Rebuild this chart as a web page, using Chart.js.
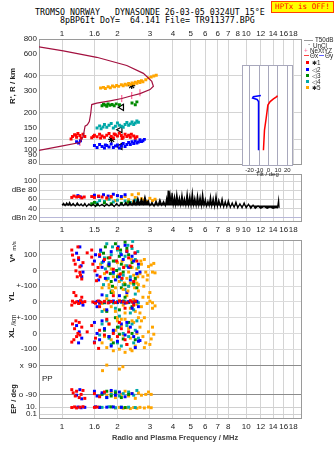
<!DOCTYPE html>
<html><head><meta charset="utf-8">
<script src="https://cdn.jsdelivr.net/npm/chart.js@4.4.1/dist/chart.umd.min.js"></script>
<style>
body{margin:0;background:#fff;}
#wrap{position:relative;width:335px;height:451px;overflow:hidden;background:#fff;font-family:'Liberation Sans',Arial,sans-serif;}
canvas{position:absolute;}
.t{position:absolute;white-space:pre;color:#222;line-height:1;}
.mono{font-family:'DejaVu Sans Mono',monospace;font-size:8.3px;color:#000;}
.r{position:absolute;white-space:nowrap;transform:translate(-50%,-50%) rotate(-90deg);color:#222;line-height:1;}
.lg{font-size:6.3px;}
.sq{position:absolute;width:3px;height:3px;}
</style></head><body><div id="wrap">
<div class="t mono" style="left:35px;top:8px;">TROMSO NORWAY   DYNASONDE 26-03-05 0324UT 15°E</div>
<div class="t mono" style="left:60px;top:16px;">8pBP6It DoY=  64.141 File= TR911377.BPG</div>
<div style="position:absolute;left:271px;top:1px;width:61px;height:10px;background:#ffff00;border:1px solid #ff4000;color:#ff0000;font:7.6px 'DejaVu Sans Mono',monospace;line-height:10px;text-align:center;">HPTx is OFF!</div>

<canvas id="c1" width="335" height="170" style="left:0;top:0"></canvas>
<canvas id="c2" width="335" height="66" style="left:0;top:170px"></canvas>
<canvas id="c3" width="335" height="215" style="left:0;top:236px"></canvas>
<canvas id="c4" width="74" height="122" style="left:228px;top:60px"></canvas>

<div class="r" style="left:13px;top:86px;font-weight:bold;font-size:8px;">R', R / km</div>
<div class="t" style="left:256px;top:171px;font-size:6px;">Tilt / deg</div>
<div class="r" style="left:13px;top:258px;font-weight:bold;font-size:8px;">V*</div>
<div class="r" style="left:14px;top:246px;font-size:6px;">m/s</div>
<div class="r" style="left:12px;top:297px;font-weight:bold;font-size:8px;">YL</div>
<div class="r" style="left:13px;top:320px;font-size:7px;">/km</div>
<div class="r" style="left:12px;top:333px;font-weight:bold;font-size:8px;">XL</div>
<div class="t" style="left:42px;top:375px;font-size:8px;">PP</div>
<div class="r" style="left:14px;top:399px;font-weight:bold;font-size:7.5px;">EP / deg</div>
<div class="t" style="left:112px;top:434px;font-size:7.5px;font-weight:bold;color:#444;">Radio and Plasma Frequency / MHz</div>

<div style="position:absolute;left:304px;top:40px;width:9px;height:1px;background:#999"></div>
<div class="t lg" style="left:315px;top:37px;">T50dB</div>
<div class="t lg" style="left:308px;top:42px;">·</div>
<div class="t lg" style="left:313px;top:43px;">UnCl</div>
<div class="t lg" style="left:304px;top:47.5px;color:#ff6699">+</div>
<div class="t lg" style="left:310px;top:48px;">NeXtYZ</div>
<div style="position:absolute;left:304px;top:55px;width:5px;height:1px;background:#ff4040"></div>
<div class="t lg" style="left:310px;top:52.5px;">Θx</div>
<div style="position:absolute;left:319px;top:55px;width:5px;height:1px;background:#6060ff"></div>
<div class="t lg" style="left:325px;top:52.5px;">Θy</div>
<div class="sq" style="left:306px;top:61px;background:#ff0000"></div><div class="t lg" style="left:312px;top:59.5px;">✱1</div>
<div class="sq" style="left:306px;top:68px;background:#0000ff"></div><div class="t lg" style="left:312px;top:66.5px;">◁2</div>
<div class="sq" style="left:306px;top:74px;background:#008a00"></div><div class="t lg" style="left:312px;top:72.5px;">◁3</div>
<div class="sq" style="left:306px;top:80px;background:#00a8a8"></div><div class="t lg" style="left:312px;top:78.5px;">◁4</div>
<div class="sq" style="left:306px;top:86px;background:#ffa500"></div><div class="t lg" style="left:312px;top:84.5px;">✱5</div>
</div>
<script>
// ---------------- DATA ----------------
const freqTicks = [1,1.5,2,3,4,5,6,7,8,9,10,12,14,16,18];
const topFreqLabels = ['1','1.6','2','3','4','5','6','6','7','8','10','12','14','16','18'];
const midFreqLabels = ['1','1.5','2','3','4','5','6','7','8','9','10','12','14','16','18'];
const lowFreqLabels = ['1','1.6','2','3','4','5','6','7','8','','10','12','14','16','18'];

const heightTicks = [80,90,100,120,150,200,300,400,600,800];
const dbTicks = [20,40,60,80,100];
const dbLabels = ['dBn 20','40','60','dBe 80','100'];
const tiltTicks = [-20,-10,0,10,20];

// real-height profile (MHz, km)
const profFreq = [0.74,1.016,1.544,2.247,2.766,3.073,3.135,3.006,2.654,2.392,2.111,1.823,1.544,1.45,1.432,1.407,1.372,1.334,1.305,1.252,0.975,0.74];
const profHeight = [692,639,567,486,419,360,329,309,286,275,261,250,239,233,197,169,159,155,129,114,106,98];
// NeXtYZ error bars
const nexFreq = [1.25,2.11,2.39,2.65];
const nexHeight = [114,261,276,291];
// echo-cluster markers
const markFreq = [1.86,2.07,2.11,2.07,2.39];
const markHeight = [121,106,221,145,333];

// virtual heights of echoes [MHz, km]
const hRed = [[1.12,122],[1.14,128],[1.17,132],[1.19,131],[1.2,126],[1.22,135],[1.25,130],[1.27,124],[1.3,133],[1.33,128],[1.45,125],[1.48,128],[1.5,131],[1.55,127],[1.6,133],[1.62,124],[1.65,129],[1.7,126],[1.75,131],[1.8,135],[1.85,128],[1.9,124],[1.92,134],[1.95,132],[2.0,129],[2.05,136],[2.1,130],[2.12,123],[2.15,126],[2.2,133],[2.25,128],[2.3,131],[2.35,126],[2.38,133],[2.45,129],[2.5,124],[2.55,127]];
const hBlue = [[1.2,116],[1.23,113],[1.26,118],[1.5,108],[1.55,104],[1.6,110],[1.65,106],[1.7,103],[1.72,109],[1.75,108],[1.8,105],[1.85,111],[1.9,104],[1.95,107],[2.0,109],[2.05,103],[2.1,107],[2.15,112],[2.2,106],[2.25,110],[2.3,114],[2.35,110],[2.4,116],[2.45,112],[2.5,118],[2.55,113],[2.6,115],[2.65,120],[2.7,116],[2.75,118],[2.8,121]];
const hGreen = [[1.65,228],[1.68,234],[1.72,231],[1.75,226],[1.78,236],[1.82,230],[1.87,233],[1.92,228],[1.97,236],[2.05,232],[2.4,240],[2.5,232],[2.55,245]];
const hCyan = [[1.55,150],[1.6,156],[1.63,148],[1.67,153],[1.7,160],[1.75,152],[1.8,158],[1.85,163],[1.9,150],[1.95,155],[2.0,165],[2.05,158],[2.1,155],[2.15,152],[2.2,160],[2.25,166],[2.3,158],[2.35,162],[2.4,168],[2.45,160],[2.5,165],[2.55,171],[2.6,167]];
const hOrange = [[1.62,318],[1.68,322],[1.72,315],[1.78,326],[1.83,320],[1.88,330],[1.93,325],[1.98,334],[2.03,328],[2.1,338],[2.15,332],[2.2,342],[2.25,336],[2.3,346],[2.35,340],[2.4,350],[2.45,344],[2.5,355],[2.55,348],[2.6,360],[2.65,352],[2.7,365],[2.75,358],[2.85,372],[2.95,385],[3.05,392],[3.15,398],[3.25,405]];

// tilt profile (deg, km)
const tiltXDeg = [-5.3,-4.2,-2.4,-0.6,1.8,5.3,8.8,9.5];
const tiltXH = [107,154,191,242,258,271,282,288];
const tiltYDeg = [-10.5,-10.5,-12,-16.8,-16,-8];
const tiltYH = [107,258,268,275,282,288];

// noise level trace (MHz, dB)
const noiseFreq = [1.00,1.02,1.04,1.06,1.08,1.10,1.12,1.15,1.18,1.21,1.24,1.27,1.30,1.33,1.36,1.40,1.44,1.48,1.52,1.56,1.60,1.65,1.70,1.75,1.80,1.86,1.92,1.98,2.04,2.10,2.16,2.22,2.28,2.34,2.40,2.46,2.52,2.58,2.64,2.70,2.76,2.82,2.88,2.94,3.00,3.08,3.16,3.24,3.32,3.40,3.48,3.56,3.64,3.70,3.74,3.77,3.81,3.86,3.91,3.96,4.02,4.08,4.14,4.20,4.27,4.34,4.41,4.48,4.55,4.62,4.70,4.78,4.86,4.94,5.02,5.10,5.18,5.26,5.35,5.44,5.53,5.62,5.71,5.80,5.90,6.00,6.10,6.20,6.30,6.40,6.50,6.62,6.74,6.86,6.98,7.10,7.25,7.40,7.55,7.70,7.85,8.00,8.20,8.40,8.60,8.80,9.00,9.25,9.50,9.75,10.0,10.3,10.6,10.9,11.2,11.6,12.0,12.5,13.0,13.5,14.0,14.5,14.8,15.0,15.1];
const noiseDb = [47,51,46,52,47,53,46,51,45,52,46,50,45,51,44,50,45,49,44,50,45,49,44,50,45,50,44,51,45,52,46,53,46,54,47,58,48,63,49,61,50,66,51,57,46,53,45,56,46,59,47,55,46,62,48,79,49,70,48,74,49,66,48,72,50,64,48,70,49,62,47,73,48,67,47,75,48,63,46,69,47,65,46,72,47,60,45,56,46,66,45,62,44,68,44,58,44,61,43,55,43,57,42,52,42,54,41,50,41,52,41,49,40,47,40,45,40,44,40,43,40,42,41,58,41];

// echo amplitudes (MHz, dB)
const dbRed = [[1.13,64],[1.16,67],[1.2,65],[1.24,66],[1.28,63],[1.32,65],[1.45,66],[1.5,64],[1.58,67],[1.65,65],[1.75,63],[1.85,66]];
const dbBlue = [[1.22,68],[1.26,65],[1.5,69],[1.58,66],[1.68,70],[1.78,67],[1.9,71],[2.0,68],[2.1,66],[2.2,70]];
const dbGreen = [[1.45,50],[1.5,53],[1.55,48],[1.7,52],[1.85,50],[2.1,51],[2.3,54]];
const dbCyan = [[1.55,52],[1.6,57],[1.7,55],[1.8,60],[1.9,54],[2.0,58],[2.1,50],[2.2,56],[2.35,53],[2.5,58],[2.6,52]];
const dbOrange = [[1.75,60],[1.85,64],[1.95,57],[2.0,68],[2.1,62],[2.2,66],[2.3,59],[2.4,70],[2.5,64],[2.6,72],[2.7,61],[2.8,58],[2.9,55],[3.0,62],[3.1,57],[3.2,60],[2.25,52],[2.45,55]];

// V* (m/s)
const vRed = [[1.14,98],[1.16,65],[1.18,40],[1.23,81],[1.19,-2],[1.25,-12],[1.21,-40],[1.28,-54],[1.25,23],[1.37,112],[1.45,85],[1.51,-2],[1.57,19],[1.61,-40],[1.54,-65],[1.82,81],[1.98,60],[1.9,8],[2.07,-23],[2.25,123],[2.39,154],[2.49,112],[2.34,29],[2.55,60],[2.16,19],[1.3,50],[1.45,130],[1.13,130],[1.22,150],[1.26,-30],[1.47,40],[1.6,100],[1.7,70],[1.75,-10],[2.0,140],[2.12,-50],[2.3,80],[2.45,-70]];
const vBlue = [[1.23,70],[1.27,30],[1.3,-10],[1.2,110],[1.5,60],[1.55,-30],[1.6,90],[1.65,20],[1.72,-50],[1.8,40],[2.02,150],[2.1,100],[2.15,70],[2.25,120],[2.3,20],[2.4,90],[2.45,60],[2.55,-20],[2.6,40],[1.95,-60],[1.62,130],[1.25,150],[1.28,-40],[1.52,100],[1.58,-60],[1.68,60],[1.85,120],[1.9,-10],[2.05,-40],[2.2,160],[2.35,-60],[2.5,110],[2.65,-10]];
const vGreen = [[1.68,110],[1.78,80],[1.8,30],[1.83,-20],[1.85,-70],[1.9,60],[1.98,0],[2.0,-40],[2.05,90],[2.1,40],[2.15,-10],[2.2,-90],[2.25,140],[2.3,100],[2.4,50],[2.5,-50],[2.55,-110],[2.2,180],[1.72,150],[1.88,-100],[2.08,130],[2.35,20],[2.45,-80],[1.95,170]];
const vCyan = [[1.62,120],[1.7,80],[1.75,170],[1.8,50],[1.85,100],[1.9,-20],[1.95,60],[2.0,130],[2.05,10],[2.1,-60],[2.2,90],[2.25,30],[2.35,-40],[2.4,140],[2.42,185],[2.5,70],[2.55,-20],[2.6,20],[1.68,-90],[2.3,-100],[1.65,50],[1.78,-50],[1.88,150],[2.08,110],[2.15,-30],[2.28,160],[2.45,-90],[2.58,120],[1.72,10]];
const vOrange = [[1.62,40],[1.7,-20],[1.75,-60],[1.8,-90],[1.85,10],[1.9,-40],[1.95,-110],[2.0,50],[2.05,-70],[2.1,-20],[2.15,-120],[2.2,30],[2.25,-50],[2.3,-10],[2.35,-80],[2.4,20],[2.45,-30],[2.5,-60],[2.55,10],[2.6,-90],[2.65,-20],[2.7,40],[2.75,-40],[2.85,-10],[2.95,25],[3.05,35],[3.1,-10],[3.0,-140],[2.9,-60],[2.8,70],[1.65,-110],[1.78,30],[1.88,-130],[2.02,-30],[2.12,60],[2.18,-80],[2.28,-130],[2.38,70],[2.48,-110],[2.58,-40],[2.68,60],[2.78,-100],[2.92,-30],[3.15,45],[3.2,-15]];
// YL (km)
const ylRed = [[1.14,5],[1.17,-5],[1.2,0],[1.23,-10],[1.26,8],[1.29,-3],[1.33,2],[1.47,0],[1.52,-8],[1.58,6],[1.63,-2],[1.7,4],[1.78,-6],[1.85,3],[1.95,-4],[2.05,5],[2.15,0],[2.25,-5],[2.35,8],[2.4,0],[2.5,5],[1.19,40],[1.16,60],[1.13,-20],[1.28,30],[1.6,-30],[1.9,40],[2.2,-40],[2.45,-20]];
const ylBlue = [[1.22,2],[1.25,-6],[1.27,5],[1.5,-3],[1.55,4],[1.6,-8],[1.7,1],[1.8,-4],[1.9,6],[2.0,-2],[2.1,3],[2.2,-7],[2.3,2],[2.45,-5],[2.55,4],[1.65,45],[2.4,-40],[1.55,-30],[1.3,-20],[1.75,-50],[2.05,40],[2.25,60],[2.6,-30]];
const ylGreen = [[1.7,-5],[1.8,3],[1.9,0],[2.0,-4],[2.15,6],[2.3,-2],[2.5,4],[1.85,60],[2.05,-50],[2.2,30],[1.75,-60],[2.4,-30],[2.1,90]];
const ylCyan = [[1.6,3],[1.7,-2],[1.8,6],[1.9,-6],[2.0,2],[2.1,-3],[2.2,5],[2.3,-4],[2.4,0],[2.5,3],[2.6,-5],[1.75,40],[1.95,-40],[2.2,80],[2.35,-70],[2.5,50],[1.65,-60],[1.85,70],[2.05,-90],[2.45,-50],[2.15,110]];
const ylOrange = [[1.65,-10],[1.75,20],[1.85,-30],[1.95,-60],[2.05,10],[2.15,-20],[2.25,40],[2.35,-40],[2.45,15],[2.55,-15],[2.65,-70],[2.75,30],[2.9,-10],[3.0,5],[3.1,-5],[3.2,-25],[2.0,-100],[2.4,-120],[2.6,70],[1.9,60],[1.7,-50],[1.8,90],[2.1,-110],[2.2,-70],[2.3,100],[2.5,-60],[2.7,-30],[2.8,-100],[2.95,30],[3.1,-40],[2.55,120]];
// XL (km)
const xlRed = [[1.14,60],[1.17,30],[1.19,80],[1.22,0],[1.25,-10],[1.28,40],[1.2,-20],[1.37,10],[1.45,50],[1.52,-30],[1.6,20],[1.7,-10],[1.8,60],[1.9,0],[2.0,-20],[2.1,30],[2.2,-40],[2.3,10],[1.58,-95],[1.13,-55],[1.16,-40],[1.24,70],[1.5,-60],[1.75,90],[2.05,70],[2.25,-70]];
const xlBlue = [[1.2,50],[1.24,10],[1.28,-30],[1.5,70],[1.55,0],[1.6,-40],[1.7,30],[1.8,-20],[1.9,20],[2.0,-50],[2.1,60],[2.2,-10],[2.35,40],[2.45,-20],[2.55,10],[2.6,-50],[2.65,-45],[1.5,-55],[1.23,-60],[1.65,80],[1.85,-80],[2.25,70],[2.5,-90]];
const xlGreen = [[1.7,20],[1.8,-20],[1.9,-60],[2.0,40],[2.05,-5],[2.15,-35],[2.3,70],[2.4,0],[2.5,-40],[1.95,100]];
const xlCyan = [[1.6,-10],[1.7,30],[1.8,-30],[1.9,10],[2.0,-60],[2.05,40],[2.15,0],[2.3,-20],[2.4,60],[2.5,20],[2.6,-30],[2.1,-80],[1.75,80],[1.65,60],[1.85,-70],[2.25,50],[2.45,-60],[2.55,80]];
const xlOrange = [[1.65,-60],[1.75,-90],[1.85,-40],[1.95,20],[2.05,-100],[2.1,50],[2.15,-10],[2.2,90],[2.25,-70],[2.3,30],[2.35,-30],[2.45,70],[2.5,-80],[2.55,0],[2.65,40],[2.75,-20],[2.85,-60],[2.95,10],[3.05,-35],[3.15,-5],[2.4,-110],[2.6,100],[1.7,-20],[1.8,60],[1.9,-110],[2.0,80],[2.35,-100],[2.7,80],[2.8,-90],[3.0,-70],[3.1,40],[2.2,-120]];
// PP polarization (deg)
const ppRed = [[1.13,-60],[1.15,-80],[1.18,-100],[1.2,-70],[1.24,-110],[1.27,-90],[1.3,-65],[1.33,-115],[1.5,-85],[1.6,-105],[1.7,-75]];
const ppBlue = [[1.2,-95],[1.25,-60],[1.28,-118],[1.5,-70],[1.55,-100],[1.65,-80],[1.75,-110],[1.85,-65],[1.95,-95],[2.05,-75],[2.2,-105],[2.4,-85]];
const ppGreen = [[1.65,-90],[1.75,-70],[1.85,-100],[1.95,-80],[2.1,-110],[2.3,-90]];
const ppCyan = [[1.6,-100],[1.7,-80],[1.75,-110],[1.85,-90],[1.95,-70],[2.05,-100],[2.15,-85],[2.3,-75],[2.45,-95],[2.55,-65]];
const ppOrange = [[1.75,-95],[1.85,-75],[1.95,-110],[2.1,-90],[2.2,-70],[2.3,-100],[2.4,-85],[2.5,-115],[2.6,-80],[2.7,-95],[2.85,-90],[2.95,-75],[3.05,-90],[1.66,60],[1.75,95],[2.05,70],[2.14,85]];
// EP (deg)
const epRed = [[1.13,8],[1.17,12],[1.2,6],[1.25,10],[1.3,14],[1.5,9],[1.55,11]];
const epBlue = [[1.22,11],[1.27,7],[1.33,9],[1.52,13],[1.6,8],[1.75,10],[1.9,12],[2.1,9]];
const epGreen = [[1.6,10],[1.85,12],[2.2,8]];
const epCyan = [[1.65,9],[1.8,13],[1.95,7],[2.1,11],[2.3,10],[2.5,8]];
const epOrange = [[1.95,6],[2.05,9],[2.15,5],[2.25,7],[2.35,4],[2.45,8],[2.55,5],[2.65,9],[2.8,6],[2.95,11],[3.05,7]];

// ---------------- STYLE / LAYOUT ----------------
const F_MIN = 0.75, F_MAX = 20.1;
const C = {red:'#ff0000', blue:'#0000ff', green:'#008a00', cyan:'#00a8a8', orange:'#ffa500'};
const GRID = '#d4d4d4', FRAME = '#9a9a9a';
// lower panel: each parameter is a band on one linear axis (units = px from panel bottom)
const LOW_MAX = 182;
const band = {
  v:  v => 151 + v * 0.16,
  yl: v => 119 + v * 0.16,
  xl: v => 87 + v * 0.16,
  pp: v => 39.5 + v * 0.161,
  ep: v => 8.5 + 3.5 * Math.log10(v)
};
const lowTicks = [band.v(100), band.v(0), band.v(-100), band.yl(0), band.yl(-100), band.xl(0), band.xl(-100), band.pp(90), band.pp(-90), band.ep(10), band.ep(0.1)];
const lowLabels = ['100','0','+-100','0','+-100','0','-100','x  90','o -90','10.','0.1'];
const lowGridCol = ['#dcdcdc','#dcdcdc','#dcdcdc','#dcdcdc','#dcdcdc','#dcdcdc','#dcdcdc','#8c8c8c','#8c8c8c','#d0d0d0','#d0d0d0'];

Chart.defaults.font.family = "'Liberation Sans', Arial, sans-serif";
Chart.defaults.font.size = 8;
Chart.defaults.color = '#222';

const frame = {
  id:'frame',
  beforeDraw(c, a, o){
    if (!o.fill) return;
    const {left,top,right,bottom} = c.chartArea;
    c.ctx.save(); c.ctx.fillStyle = o.fill; c.ctx.fillRect(left, top, right-left, bottom-top); c.ctx.restore();
  },
  beforeDatasetsDraw(c, a, o){
    const {left,top,right,bottom} = c.chartArea, ctx = c.ctx;
    ctx.save(); ctx.strokeStyle = o.color || FRAME; ctx.lineWidth = 1;
    ctx.strokeRect(Math.round(left)+0.5, Math.round(top)+0.5, Math.round(right-left)-1, Math.round(bottom-top)-1);
    ctx.restore();
  }
};
const yFit = w => s => { s.width = w; s.paddingTop = 0; s.paddingBottom = 0; };
const xFit = h => s => { s.height = h; s.paddingLeft = 0; s.paddingRight = 0; };
const setTicks = vals => s => { s.ticks = vals.map(v => ({value:v})); };

const pts = (arr, map) => arr.map(([f,v]) => ({x:f, y: map ? map(v) : v}));
const dots = (arr, color, map) => ({type:'scatter', data: pts(arr, map), pointStyle:'rect', pointRadius:2.1, backgroundColor:color, borderWidth:0});
const freqAxis = (pos, labels, h) => ({
  type:'logarithmic', position:pos, min:F_MIN, max:F_MAX,
  afterBuildTicks: setTicks(freqTicks), afterFit: xFit(h),
  ticks:{autoSkip:false, maxRotation:0, minRotation:0, padding: pos==='top'?0:3, callback:(v,i)=>labels[i], font:{size:8}},
  grid:{drawTicks:false, color: ctx => (ctx.tick && ctx.tick.value===9) ? 'rgba(0,0,0,0)' : GRID},
  border:{display:false}
});
const base = (extra) => Object.assign({
  responsive:false, animation:false, devicePixelRatio:1, events:[],
  plugins:{legend:{display:false}, tooltip:{enabled:false}}
}, extra);

// ---------- Chart 1: heights ----------
new Chart(document.getElementById('c1'), {
  type:'scatter',
  data:{datasets:[
    {type:'scatter', showLine:true, data: profFreq.map((f,i)=>({x:f, y:profHeight[i]})), borderColor:'#a3103f', borderWidth:1.2, pointRadius:0},
    dots(hRed, C.red), dots(hBlue, C.blue), dots(hGreen, C.green), dots(hCyan, C.cyan), dots(hOrange, C.orange),
    {type:'scatter', data: nexFreq.map((f,i)=>({x:f, y:nexHeight[i]})), pointStyle:'line', rotation:90, pointRadius:3.5, borderColor:'#ff6699', borderWidth:1.2},
    {type:'scatter', data: markFreq.map((f,i)=>({x:f, y:markHeight[i]})), pointStyle:['star','triangle','triangle','triangle','star'], rotation:[0,270,270,270,0], pointRadius:3.5, borderColor:'#000', backgroundColor:'rgba(255,255,255,0.6)', borderWidth:1.2}
  ]},
  options: base({
    layout:{padding:{left:0,right:33,top:0,bottom:0}},
    plugins:{legend:{display:false}, tooltip:{enabled:false}, frame:{}},
    scales:{
      x: freqAxis('top', topFreqLabels, 39),
      y:{type:'logarithmic', min:75, max:800, afterBuildTicks: setTicks(heightTicks), afterFit: yFit(39),
         ticks:{autoSkip:false, padding:2, callback:(v,i)=>String(heightTicks[i])},
         grid:{drawTicks:false, color: ctx => (ctx.tick && [100,120,200,400].includes(ctx.tick.value)) ? GRID : 'rgba(0,0,0,0)'},
         border:{display:false}}
    }
  }),
  plugins:[frame]
});

// ---------- Chart 2: amplitudes ----------
new Chart(document.getElementById('c2'), {
  type:'scatter',
  data:{datasets:[
    {type:'scatter', showLine:true, data: noiseFreq.map((f,i)=>({x:f, y:noiseDb[i]})), borderColor:'#000', borderWidth:1.2, pointRadius:0, fill:{value:46}, backgroundColor:'#000'},
    dots(dbRed, C.red), dots(dbBlue, C.blue), dots(dbGreen, C.green), dots(dbCyan, C.cyan), dots(dbOrange, C.orange)
  ]},
  options: base({
    layout:{padding:{left:0,right:33,top:0,bottom:0}},
    plugins:{legend:{display:false}, tooltip:{enabled:false}, frame:{}},
    scales:{
      x: freqAxis('bottom', midFreqLabels, 14),
      y:{type:'linear', min:9.8, max:115.7, afterBuildTicks: setTicks(dbTicks), afterFit: yFit(39),
         ticks:{autoSkip:false, padding:2, callback:(v,i)=>dbLabels[i]},
         grid:{drawTicks:false, color: ctx => (ctx.tick && ctx.tick.value===20) ? '#b8b8d8' : GRID},
         border:{display:false}}
    }
  }),
  plugins:[frame]
});

// ---------- Chart 3: drifts / polarization ----------
new Chart(document.getElementById('c3'), {
  type:'scatter',
  data:{datasets:[
    dots(vRed, C.red, band.v), dots(vBlue, C.blue, band.v), dots(vGreen, C.green, band.v), dots(vCyan, C.cyan, band.v), dots(vOrange, C.orange, band.v),
    dots(ylRed, C.red, band.yl), dots(ylBlue, C.blue, band.yl), dots(ylGreen, C.green, band.yl), dots(ylCyan, C.cyan, band.yl), dots(ylOrange, C.orange, band.yl),
    dots(xlRed, C.red, band.xl), dots(xlBlue, C.blue, band.xl), dots(xlGreen, C.green, band.xl), dots(xlCyan, C.cyan, band.xl), dots(xlOrange, C.orange, band.xl),
    dots(ppRed, C.red, band.pp), dots(ppBlue, C.blue, band.pp), dots(ppGreen, C.green, band.pp), dots(ppCyan, C.cyan, band.pp), dots(ppOrange, C.orange, band.pp),
    dots(epRed, C.red, band.ep), dots(epBlue, C.blue, band.ep), dots(epGreen, C.green, band.ep), dots(epCyan, C.cyan, band.ep), dots(epOrange, C.orange, band.ep)
  ]},
  options: base({
    layout:{padding:{left:0,right:33,top:1,bottom:0}},
    plugins:{legend:{display:false}, tooltip:{enabled:false}, frame:{}},
    scales:{
      x: freqAxis('bottom', lowFreqLabels, 32),
      y:{type:'linear', min:0, max:LOW_MAX, afterBuildTicks: setTicks(lowTicks), afterFit: yFit(39),
         ticks:{autoSkip:false, padding:2, callback:(v,i)=>lowLabels[i]},
         grid:{drawTicks:false, color: ctx => ctx.tick ? lowGridCol[ctx.index] : GRID},
         border:{display:false}}
    }
  }),
  plugins:[frame]
});

// ---------- Chart 4: tilt inset ----------
new Chart(document.getElementById('c4'), {
  type:'scatter',
  data:{datasets:[
    {type:'scatter', showLine:true, data: tiltXDeg.map((d,i)=>({x:d, y:tiltXH[i]})), borderColor:'#ff0000', borderWidth:1.5, pointRadius:0},
    {type:'scatter', showLine:true, data: tiltYDeg.map((d,i)=>({x:d, y:tiltYH[i]})), borderColor:'#0000ff', borderWidth:1.5, pointRadius:0}
  ]},
  options: base({
    layout:{padding:{left:14,right:9,top:5,bottom:0}},
    plugins:{legend:{display:false}, tooltip:{enabled:false}, frame:{fill:'#ffffff', color:'#a8a8bc'}},
    scales:{
      x:{type:'linear', position:'bottom', min:-28, max:26, afterBuildTicks: setTicks(tiltTicks), afterFit: xFit(16),
         ticks:{autoSkip:false, maxRotation:0, padding:1, font:{size:6}, callback:(v,i)=>String(tiltTicks[i])},
         grid:{drawTicks:false, color:'#a8a8bc'}, border:{display:false}},
      y:{type:'logarithmic', display:false, min:80.5, max:500}
    }
  }),
  plugins:[frame]
});
</script>
</body></html>
